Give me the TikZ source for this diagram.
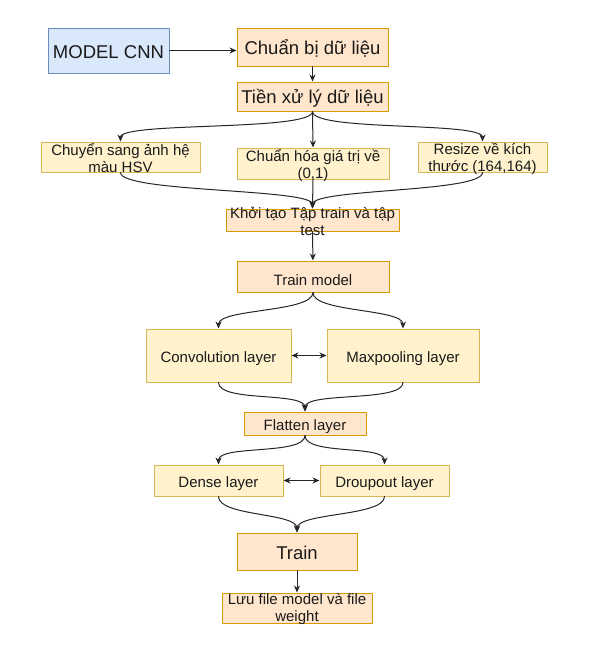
\documentclass[tikz,border=0pt]{standalone}
\usepackage{fontspec}
\setmainfont{Liberation Sans}
\usetikzlibrary{arrows.meta}

\definecolor{peachfill}{HTML}{FFE6CC}
\definecolor{peachline}{HTML}{D79B00}
\definecolor{yelfill}{HTML}{FFF2CC}
\definecolor{yelline}{HTML}{D6B656}
\definecolor{blufill}{HTML}{DAE8FC}
\definecolor{bluline}{HTML}{6C8EBF}
\definecolor{txtcol}{HTML}{1A1A1A}

\begin{document}
\begin{tikzpicture}[x=1pt, y=-1pt, line cap=round, line join=round, >={Stealth[length=7pt,width=6pt]}]
  \useasboundingbox (0,0) rectangle (607,653);
  \tikzset{
    box/.style={draw, line width=1pt, inner sep=0pt},
    peach/.style={box, fill=peachfill, draw=peachline},
    yel/.style={box, fill=yelfill, draw=yelline},
    blu/.style={box, fill=blufill, draw=bluline},
    lab/.style={font=\fontsize{15}{17}\selectfont, align=center, text=txtcol, inner sep=0pt, yshift=-1.5pt},
    labone/.style={lab, yshift=-2pt},
    big/.style={font=\fontsize{18.5}{22}\selectfont, align=center, text=txtcol, inner sep=0pt, yshift=-1.5pt},
    conn/.style={->, line width=1pt, draw=black!85},
    curvy/.style={to path={.. controls +(0,20) and +(0,-20) .. (\tikztotarget)}}
  }

  % --- boxes (centres, in px)
  \node[blu, minimum width=121, minimum height=45, label={[big]center:MODEL CNN}] (cnn) at (108.5,50.5) {};
  \node[peach, minimum width=151, minimum height=38, label={[big]center:Chuẩn bị dữ liệu}] (prep) at (312.5,47) {};
  \node[peach, minimum width=151, minimum height=29, label={[big]center:Tiền xử lý dữ liệu}] (pre) at (312.5,96.5) {};

  \node[yel, minimum width=159, minimum height=30, label={[lab]center:Chuyển sang ảnh hệ\\màu HSV}] (hsv) at (120.5,157) {};
  \node[yel, minimum width=152, minimum height=31, label={[lab]center:Chuẩn hóa giá trị về\\(0,1)}] (norm) at (313,163.5) {};
  \node[yel, minimum width=129, minimum height=30, label={[lab]center:Resize về kích\\thước (164,164)}] (resize) at (482.5,157) {};

  \node[peach, minimum width=173, minimum height=22, label={[lab]center:Khởi tạo Tập train và tập\\test}] (split) at (312.5,220) {};
  \node[peach, minimum width=152, minimum height=31, label={[labone]center:Train model}] (tmodel) at (313,276.5) {};

  \node[yel, minimum width=145, minimum height=53, label={[labone]center:Convolution layer}] (conv) at (218.5,355.5) {};
  \node[yel, minimum width=152, minimum height=53, label={[labone]center:Maxpooling layer}] (pool) at (403,355.5) {};
  \node[peach, minimum width=122, minimum height=23, label={[labone]center:Flatten layer}] (flat) at (305,423.5) {};

  \node[yel, minimum width=129, minimum height=31, label={[labone]center:Dense layer}] (dense) at (218.5,480.5) {};
  \node[yel, minimum width=129, minimum height=31, label={[labone]center:Droupout layer}] (drop) at (384.5,480.5) {};

  \node[peach, minimum width=120, minimum height=37, label={[big]center:Train}] (train) at (297,551.5) {};
  \node[peach, minimum width=150, minimum height=30, label={[lab]center:Lưu file model và file\\weight}] (save) at (297,608) {};

  % --- connectors
  \draw[conn] (cnn.east) -- (cnn.east -| prep.west);
  \draw[conn] (prep) -- (pre);

  \draw[conn] (pre.south) to[curvy] (hsv.north);
  \draw[conn] (pre.south) -- (norm.north);
  \draw[conn] (pre.south) to[curvy] (resize.north);

  \draw[conn] (hsv.south) to[curvy] (split.north);
  \draw[conn] (norm.south) -- (split.north);
  \draw[conn] (resize.south) to[curvy] (split.north);

  \draw[conn] (split) -- (tmodel);

  \draw[conn] (tmodel.south) to[curvy] (conv.north);
  \draw[conn] (tmodel.south) to[curvy] (pool.north);
  \draw[conn, <->] (conv) -- (pool);
  \draw[conn] (conv.south) to[curvy] (flat.north);
  \draw[conn] (pool.south) to[curvy] (flat.north);

  \draw[conn] (flat.south) to[curvy] (dense.north);
  \draw[conn] (flat.south) to[curvy] (drop.north);
  \draw[conn, <->] (dense) -- (drop);
  \draw[conn] (dense.south) to[curvy] (train.north);
  \draw[conn] (drop.south) to[curvy] (train.north);

  \draw[conn] (train) -- (save);
\end{tikzpicture}
\end{document}
